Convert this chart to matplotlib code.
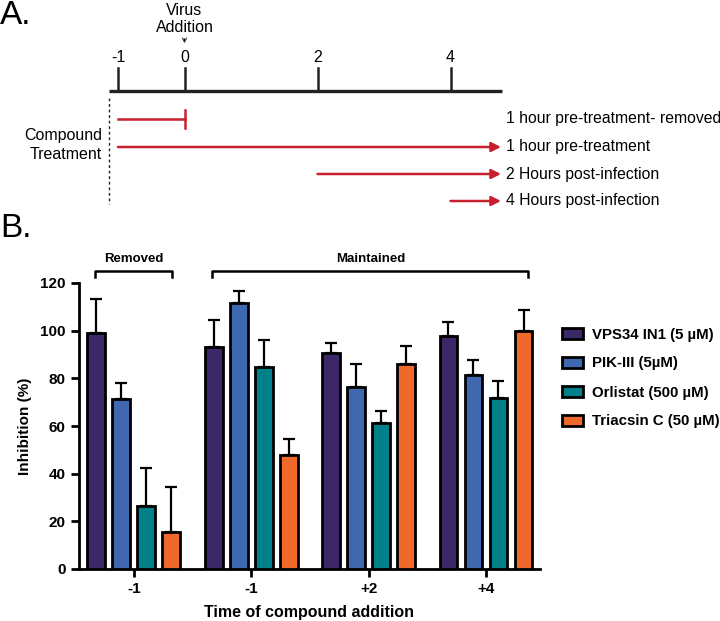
import numpy as np
import matplotlib
matplotlib.use("Agg")
import matplotlib.pyplot as plt

plt.rcParams['font.family'] = ['Liberation Sans', 'DejaVu Sans']

# panel B data
groups = ['-1', '-1', '+2', '+4']
series = ['VPS34 IN1 (5 µM)', 'PIK-III (5µM)', 'Orlistat (500 µM)', 'Triacsin C (50 µM)']
colors = ['#3b2868', '#4068b0', '#00818a', '#f0682a']
vps34 = [99.0, 93.1, 90.5, 97.8]
pik3 = [71.3, 111.6, 76.2, 81.3]
orlistat = [26.6, 84.6, 61.1, 71.6]
triacsin = [15.5, 47.8, 86.2, 99.9]
vps34_err = [14.3, 11.2, 4.2, 6.0]
pik3_err = [6.7, 5.2, 10.0, 6.4]
orlistat_err = [15.8, 11.6, 5.3, 7.3]
triacsin_err = [18.9, 6.9, 7.5, 8.8]

# panel A timeline
hours = [-1, 0, 2, 4]
treat_start = [-1, -1, 2, 4]
treat_labels = ['1 hour pre-treatment- removed', '1 hour pre-treatment',
                '2 Hours post-infection', '4 Hours post-infection']

fig = plt.figure(figsize=(7.2, 6.21), dpi=100)

# ---------- panel A ----------
px0, pxh = 184.5, 66.5   # pixel of hour 0, pixels per hour
def hx(px):
    return (px - px0) / pxh

axa = fig.add_axes([0, 1 - 230 / 621, 1, 230 / 621])
axa.set_xlim(hx(0), hx(720))
axa.set_ylim(230, 0)
axa.axis('off')
red = '#c8202f'
line_end = hx(501)
axa.plot([hx(109), hx(502)], [91, 91], color='#222222', lw=2.4, solid_capstyle='butt')
for h in hours:
    axa.plot([h, h], [68, 91], color='#222222', lw=1.8)
    axa.text(h, 57, str(h), ha='center', va='center', fontsize=11.5)
axa.text(0, 19, 'Virus\nAddition', ha='center', va='center', fontsize=11.5, linespacing=1.1)
axa.annotate('', xy=(0, 46), xytext=(0, 36),
             arrowprops=dict(arrowstyle='->', color='#222222', lw=0.8, mutation_scale=7))
axa.plot([hx(109)] * 2, [98, 204], color='#222222', lw=1, ls=(0, (2, 2)))
axa.text(hx(102), 145, 'Compound\nTreatment', ha='right', va='center',
         fontsize=11.5, linespacing=1.3)
rows_y = [119, 147, 174, 201]
for i, (s, lab, y) in enumerate(zip(treat_start, treat_labels, rows_y)):
    if i == 0:
        axa.plot([s, 0], [y, y], color=red, lw=1.8)
        axa.plot([0, 0], [y - 9, y + 9], color=red, lw=1.8)
    else:
        axa.annotate('', xy=(line_end, y), xytext=(s, y),
                     arrowprops=dict(arrowstyle='-|>', color=red, lw=1.8, mutation_scale=14,
                                     shrinkA=0, shrinkB=0))
    axa.text(hx(506), y, lab, ha='left', va='center', fontsize=11.3)

fig.text(0.0, 1 - 15 / 621, 'A.', fontsize=24, va='center', ha='left')
fig.text(0.0, 1 - 228 / 621, 'B.', fontsize=24, va='center', ha='left')

# ---------- panel B ----------
ax = fig.add_axes([79 / 720, 1 - 569 / 621, (540 - 79) / 720, (569 - 283) / 621])
x = np.arange(len(groups))
vals = [vps34, pik3, orlistat, triacsin]
errs = [vps34_err, pik3_err, orlistat_err, triacsin_err]
step = 0.213
width = 0.152
for i in range(4):
    pos = x + (i - 1.5) * step
    ax.bar(pos, vals[i], width, color=colors[i], edgecolor='black', linewidth=2,
           label=series[i], zorder=3)
    ax.errorbar(pos, vals[i], yerr=[np.zeros(4), errs[i]], fmt='none', ecolor='black',
                elinewidth=1.6, capsize=4, capthick=1.6, zorder=2)

ax.set_xlim(-0.466, 3.46)
ax.set_ylim(0, 120)
ax.set_yticks(range(0, 121, 20))
ax.set_xticks(x)
ax.set_xticklabels(groups)
for sp in ['top', 'right']:
    ax.spines[sp].set_visible(False)
for sp in ['left', 'bottom']:
    ax.spines[sp].set_linewidth(2)
ax.tick_params(axis='both', width=2, length=6, labelsize=11)
for t in ax.get_xticklabels() + ax.get_yticklabels():
    t.set_fontweight('bold')
ax.set_ylabel('Inhibition (%)', fontsize=11, fontweight='bold', labelpad=6)
ax.set_xlabel('Time of compound addition', fontsize=11.5, fontweight='bold', labelpad=6)

# brackets
def bracket(x0, x1, label):
    ax.plot([x0, x0, x1, x1], [122.5, 125, 125, 122.5], color='black', lw=1.8,
            clip_on=False)
    ax.text((x0 + x1) / 2, 130, label, ha='center', va='center', fontsize=9.5,
            fontweight='bold')

bracket(-0.33, 0.33, 'Removed')
bracket(0.67, 3.36, 'Maintained')

leg = fig.legend(loc='upper left', bbox_to_anchor=(554 / 720, 1 - 320 / 621), frameon=False,
                 handlelength=1.45, handleheight=0.75, labelspacing=1.0, handletextpad=0.6,
                 borderpad=0, prop=dict(size=10.8, weight='bold'))

fig.savefig('out.png', dpi=100)
